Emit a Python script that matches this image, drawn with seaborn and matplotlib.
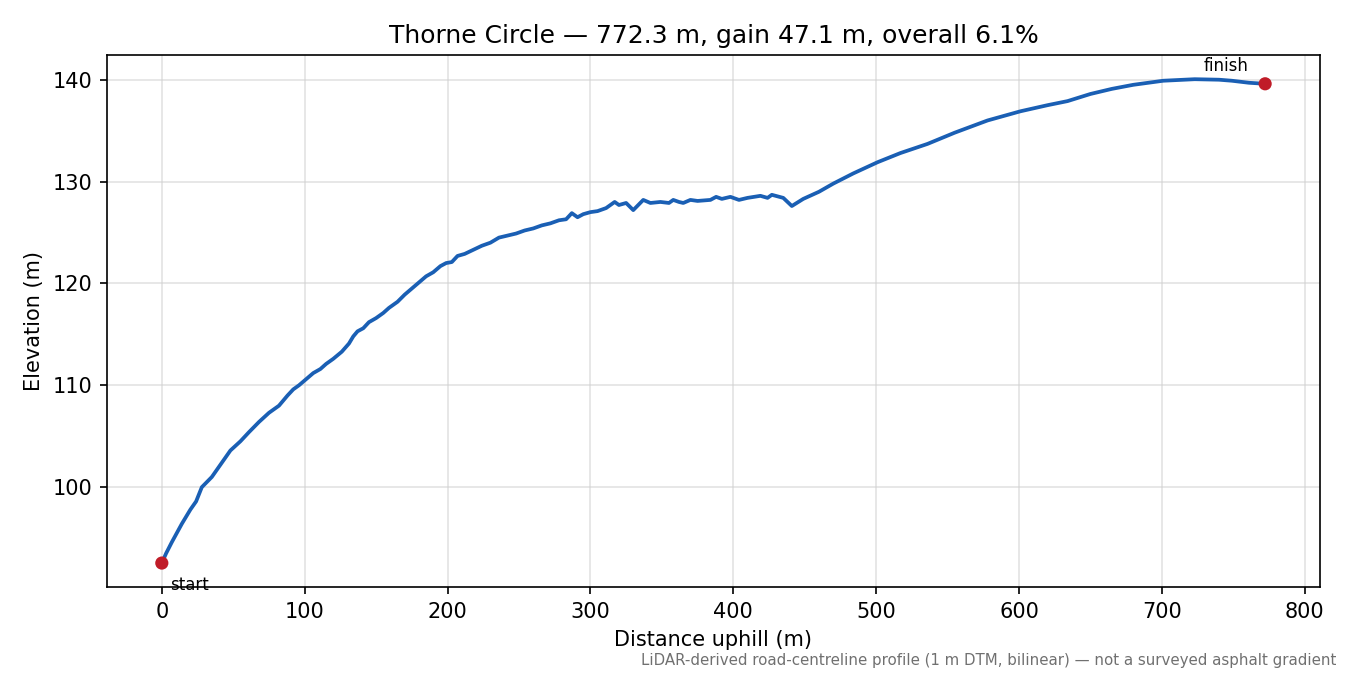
import matplotlib
matplotlib.use("Agg")
import matplotlib.pyplot as plt
import seaborn as sns
import pandas as pd

distance_m = [0, 3, 7, 14, 20, 24, 28, 35, 41, 48, 55, 61, 68, 75, 82, 88, 92, 96,
              101, 106, 111, 115, 120, 126, 131, 134, 137, 141, 145, 150, 155, 159,
              165, 170, 175, 180, 185, 190, 195, 199, 203, 207, 212, 218, 224, 230,
              236, 242, 248, 254, 260, 266, 272, 278, 283, 287, 291, 295, 300, 305,
              311, 317, 320, 325, 330, 337, 342, 349, 355, 358, 362, 365, 370, 375,
              384, 388, 392, 398, 404, 410, 419, 424, 427, 435, 438, 441, 449, 460,
              470, 484, 501, 517, 536, 555, 578, 601, 620, 634, 650, 665, 680, 701,
              723, 740, 749, 761, 772.3]
elevation_m = [92.55, 93.5, 94.6, 96.4, 97.8, 98.6, 100.0, 101.0, 102.2, 103.6, 104.5,
               105.4, 106.4, 107.3, 108.0, 109.0, 109.6, 110.0, 110.6, 111.2, 111.6,
               112.1, 112.6, 113.3, 114.1, 114.8, 115.3, 115.6, 116.2, 116.6, 117.1,
               117.6, 118.2, 118.9, 119.5, 120.1, 120.7, 121.1, 121.7, 122.0, 122.1,
               122.7, 122.9, 123.3, 123.7, 124.0, 124.5, 124.7, 124.9, 125.2, 125.4,
               125.7, 125.9, 126.2, 126.3, 126.9, 126.5, 126.8, 127.0, 127.1, 127.4,
               128.0, 127.7, 127.9, 127.2, 128.2, 127.9, 128.0, 127.9, 128.2, 128.0,
               127.9, 128.2, 128.1, 128.2, 128.5, 128.3, 128.5, 128.2, 128.4, 128.6,
               128.4, 128.7, 128.4, 128.0, 127.6, 128.3, 129.0, 129.8, 130.8, 131.9,
               132.8, 133.7, 134.8, 136.0, 136.9, 137.5, 137.9, 138.6, 139.1, 139.5,
               139.9, 140.05, 140.0, 139.9, 139.7, 139.6]

endpoint_labels = ["start", "finish"]
title_text = "Thorne Circle — 772.3 m, gain 47.1 m, overall 6.1%"
x_label = "Distance uphill (m)"
y_label = "Elevation (m)"
footnote = "LiDAR-derived road-centreline profile (1 m DTM, bilinear) — not a surveyed asphalt gradient"

df = pd.DataFrame({"d": distance_m, "e": elevation_m})
ends = pd.DataFrame({"d": [distance_m[0], distance_m[-1]],
                     "e": [elevation_m[0], elevation_m[-1]],
                     "label": endpoint_labels})

fig, ax = plt.subplots(figsize=(9, 4.5), dpi=150)
fig.subplots_adjust(left=0.079, right=0.978, top=0.9185, bottom=0.130)

sns.lineplot(data=df, x="d", y="e", ax=ax, color="#1a5fb4", linewidth=1.8)
sns.scatterplot(data=ends, x="d", y="e", ax=ax, color="#c01c28", s=40,
                edgecolor="none", zorder=5)

ax.annotate(ends["label"][0], (ends["d"][0], ends["e"][0]), xytext=(4, -6),
            textcoords="offset points", ha="left", va="top", fontsize=8)
ax.annotate(ends["label"][1], (ends["d"][1], ends["e"][1]), xytext=(-8, 4),
            textcoords="offset points", ha="right", va="bottom", fontsize=8)

ax.grid(True, color="#d0d0d0", alpha=0.6, linewidth=0.8)
ax.set_axisbelow(True)
ax.set_title(title_text, fontsize=12)
ax.set_xlabel(x_label)
ax.set_ylabel(y_label)
ax.set_yticks([100, 110, 120, 130, 140])

fig.text(0.99, 0.01, footnote, ha="right", va="bottom", fontsize=7.2, color="#707070")

fig.savefig("out.png", dpi=150)
